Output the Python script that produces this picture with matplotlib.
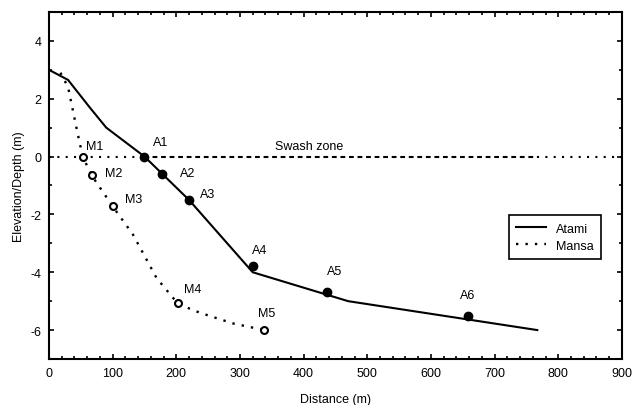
import matplotlib
matplotlib.use("Agg")
import matplotlib.pyplot as plt
from matplotlib.ticker import MultipleLocator

plt.rcParams['font.family'] = ['Liberation Sans', 'DejaVu Sans']
plt.rcParams['axes.unicode_minus'] = False

# Atami profile line
atami_x = [0, 30, 64, 90, 150, 220, 320, 395, 470, 767]
atami_y = [3.0, 2.65, 1.7, 1.0, 0.0, -1.5, -4.0, -4.5, -5.0, -6.0]
# Atami sampling points
a_names = ["A1", "A2", "A3", "A4", "A5", "A6"]
a_x = [150, 178, 220, 320, 437, 658]
a_y = [0.0, -0.6, -1.5, -3.8, -4.7, -5.5]

# Mansa profile line
mansa_x = [18, 30, 45, 53, 67, 101, 132, 169, 203, 237, 289, 338]
mansa_y = [2.9, 2.4, 0.8, 0.0, -0.65, -1.75, -2.7, -4.2, -5.1, -5.4, -5.77, -6.0]
# Mansa sampling points
m_names = ["M1", "M2", "M3", "M4", "M5"]
m_x = [53, 67, 101, 203, 338]
m_y = [0.0, -0.65, -1.71, -5.07, -6.0]

# label positions (left, centre of text)
a_lab_x = [163, 206, 237, 319, 437, 646]
a_lab_y = [0.49, -0.57, -1.31, -3.23, -3.94, -4.78]
m_lab_x = [58, 88, 119, 212, 328]
m_lab_y = [0.38, -0.57, -1.48, -4.57, -5.4]

# swash zone line segments: dotted / dashed / dotted
swash_x = [0, 150, 767, 900]
swash_label = "Swash zone"

fig = plt.figure(figsize=(6.32, 4.06), dpi=100)
ax = fig.add_axes([0.0775, 0.1133, 0.9066, 0.8547])

dotted = (0, (1, 3))
ax.plot(swash_x[0:2], [0, 0], color='black', lw=1.5, linestyle=dotted, zorder=1)
ax.plot(swash_x[1:3], [0, 0], color='black', lw=1.5, linestyle=(0, (2.3, 1.8)), zorder=1,
        dash_capstyle='butt')
ax.plot(swash_x[2:4], [0, 0], color='black', lw=1.5, linestyle=dotted, zorder=1)
ax.text(408, 0.35, swash_label, fontsize=9, ha='center', va='center')

ax.plot(atami_x, atami_y, color='black', lw=1.5, label='Atami', zorder=2)
ax.plot(mansa_x, mansa_y, color='black', lw=1.7, linestyle=dotted, label='Mansa', zorder=2)

ax.plot(a_x, a_y, 'o', color='black', markersize=6, zorder=3)
ax.plot(m_x, m_y, 'o', markerfacecolor='white', markeredgecolor='black',
        markersize=5, markeredgewidth=1.5, zorder=3)

for n, x, y in zip(a_names, a_lab_x, a_lab_y):
    ax.text(x, y, n, fontsize=9, ha='left', va='center')
for n, x, y in zip(m_names, m_lab_x, m_lab_y):
    ax.text(x, y, n, fontsize=9, ha='left', va='center')

ax.set_xlim(0, 900)
ax.set_ylim(-7, 5)
ax.xaxis.set_major_locator(MultipleLocator(100))
ax.xaxis.set_minor_locator(MultipleLocator(20))
ax.yaxis.set_minor_locator(MultipleLocator(1))
ax.set_yticks([-6, -4, -2, 0, 2, 4])
ax.tick_params(which='both', direction='in', top=True, right=True, labelsize=9, width=1.2, pad=5.5)
ax.tick_params(which='major', length=3.5)
ax.tick_params(which='minor', length=2)
for s in ax.spines.values():
    s.set_linewidth(1.5)

ax.set_xlabel("Distance (m)", fontsize=9, labelpad=10)
ax.set_ylabel("Elevation/Depth (m)", fontsize=9, labelpad=4)

leg = ax.legend(loc='upper right', bbox_to_anchor=(0.975, 0.432), fontsize=9,
                fancybox=False, edgecolor='black', framealpha=1, handlelength=2.4,
                borderpad=0.6, labelspacing=0.4)
leg.get_frame().set_linewidth(1.2)

fig.savefig("out.png", dpi=100)
